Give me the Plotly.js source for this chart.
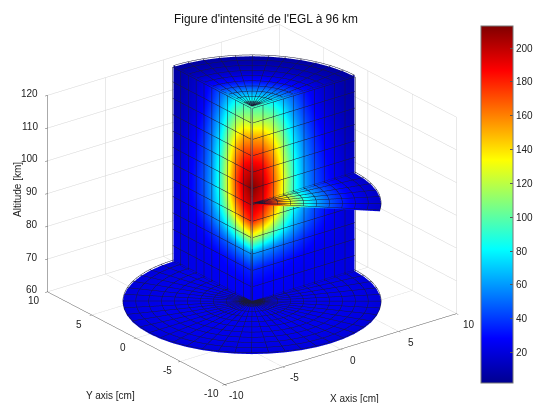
<!DOCTYPE html>
<html><head><meta charset="utf-8">
<script src="https://cdn.plot.ly/plotly-3.0.1.min.js"></script>
<style>html,body{margin:0;padding:0;background:#fff}#g{width:533px;height:403px}</style>
</head><body><div id="g"></div>
<script>
const altitudes=[120,115,110,105,100,95,90,85,80,75,70,65,60];
const radii=[0.01,0.885,1.77,2.655,3.54,4.425,5.31,6.195,7.08,7.965,8.85];
const intensity=[
[95,90,78,62,46,33,24,17,12,9,7],
[120,115,104,82,58,40,28,19,14,10,8],
[155,148,128,100,70,48,33,23,16,12,9],
[178,172,150,115,80,55,38,27,19,14,10],
[200,190,165,125,88,60,42,30,22,16,12],
[213,200,172,132,92,63,45,33,24,18,14],
[200,192,168,130,92,65,47,35,26,20,16],
[182,172,148,115,85,62,46,35,27,21,17],
[125,118,104,85,66,52,41,32,26,21,18],
[62,60,56,50,44,37,32,27,24,21,19],
[36,35,34,32,30,28,26,24,23,21,20],
[28,28,27,27,26,25,25,24,23,22,21],
[26,26,26,25,25,25,24,24,23,22,20]];
const sliceAltitude=90;
const denseRings=[0.15,0.3,0.45,0.6,0.75];
const xTicks=[-10,-5,0,5,10], yTicks=[-10,-5,0,5,10], zTicks=[60,70,80,90,100,110,120];
const cbTicks=[20,40,60,80,100,120,140,160,180,200];
const thetaStep=7.5;
const jet=[[0,'rgb(0,0,143)'],[0.125,'rgb(0,0,255)'],[0.375,'rgb(0,255,255)'],[0.625,'rgb(255,255,0)'],[0.875,'rgb(255,0,0)'],[1,'rgb(128,0,0)']];
const flat={ambient:1,diffuse:0,specular:0,roughness:1,fresnel:0};
const cmin=2,cmax=213;
const font={family:'Liberation Sans, Arial',size:10,color:'#222'};
// keep slices just inside the axis box so they are not clipped at its limits
function inset(a){return Math.min(119.5,Math.max(60.1,a));}
function angles(a,b){const o=[];for(let t=a;t<=b+1e-6;t+=thetaStep)o.push(t);return o;}
function base(){return {type:'surface',colorscale:jet,cmin,cmax,showscale:false,lighting:flat,hoverinfo:'skip',
  contours:{x:{highlight:false},y:{highlight:false},z:{highlight:false}}};}
function wall(dx,dy){
  const t=base();
  t.x=altitudes.map(()=>radii.map(r=>r*dx));
  t.y=altitudes.map(()=>radii.map(r=>r*dy));
  t.z=altitudes.map(a=>radii.map(()=>a));
  t.surfacecolor=intensity;
  return t;
}
function disk(alt,a,b){
  const t=base(),th=angles(a,b),row=intensity[altitudes.indexOf(alt)];
  t.x=th.map(d=>radii.map(r=>r*Math.cos(d*Math.PI/180)));
  t.y=th.map(d=>radii.map(r=>r*Math.sin(d*Math.PI/180)));
  t.z=th.map(()=>radii.map(()=>inset(alt)));
  t.surfacecolor=th.map(()=>row);
  return t;
}
const meshLines=[];
function seg(pts,o){meshLines.push({type:'scatter3d',mode:'lines',x:pts.map(p=>p[0]+o[0]),y:pts.map(p=>p[1]+o[1]),z:pts.map(p=>p[2]+o[2]),
  line:{color:'rgb(25,25,55)',width:1},hoverinfo:'skip',showlegend:false});}
function wallLines(dx,dy){
  const o=[-0.08*dy,-0.08*dx,0];
  radii.forEach(r=>seg(altitudes.map(a=>[r*dx,r*dy,inset(a)]),o));
  altitudes.forEach(a=>seg(radii.map(r=>[r*dx,r*dy,inset(a)]),o));
}
function diskLines(alt,a,b,rings){
  const o=[0,0,0.4],z=inset(alt);
  const th=angles(a,b);
  th.forEach(d=>seg(radii.map(r=>[r*Math.cos(d*Math.PI/180),r*Math.sin(d*Math.PI/180),z]),o));
  const fine=[];for(let d=a;d<=b+1e-6;d+=thetaStep/3)fine.push(d);
  rings.forEach(r=>seg(fine.map(d=>[r*Math.cos(d*Math.PI/180),r*Math.sin(d*Math.PI/180),z]),o));
}
const allRings=denseRings.concat(radii.slice(1));
wallLines(0,1);wallLines(1,0);
diskLines(120,0,90,allRings);
diskLines(60,0,360,allRings);
diskLines(sliceAltitude,-45,0,allRings);
const traces=[wall(0,1),wall(1,0),disk(120,0,90),disk(60,0,360),disk(sliceAltitude,-45,0)].concat(meshLines);
traces.push({type:'surface',x:[[0,0],[0,0]],y:[[0,0],[0,0]],z:[[60,60],[60,60]],surfacecolor:[[cmin,cmin],[cmax,cmax]],opacity:0,
 colorscale:jet,cmin,cmax,showscale:true,hoverinfo:'skip',
 colorbar:{x:481/533,xanchor:'left',xpad:0,y:(403-26)/403,yanchor:'top',ypad:0,lenmode:'pixels',len:357,thicknessmode:'pixels',thickness:32,
  outlinecolor:'#777',outlinewidth:1,tickvals:cbTicks,ticktext:cbTicks.map(String),ticks:'inside',ticklen:3,tickcolor:'#555',tickfont:font}});
function ax(range,ticks){return {title:{text:''},range,tickvals:ticks,ticktext:ticks.map(String),showticklabels:false,
 showbackground:false,showgrid:true,gridcolor:'#d4d4d4',gridwidth:1,zeroline:false,showline:true,linecolor:'#555',linewidth:1,
 ticks:'outside',ticklen:3,tickcolor:'#555',showspikes:false,autorange:false};}
function lab(x,y,z,t,xs,ys,anchor){return {x,y,z,text:t,showarrow:false,xshift:xs,yshift:ys,xanchor:anchor||'center',yanchor:'middle',font};}
const sceneLabels=[].concat(
 xTicks.map(v=>lab(v,-10,60,String(v),12,-11)),
 yTicks.map(v=>lab(-10,v,60,String(v),-13,-9)),
 zTicks.map(v=>lab(-10,10,v,String(v),-7,2,'right')));
const R=1.356;
const layout={width:533,height:403,margin:{l:0,r:0,t:0,b:0,autoexpand:false},paper_bgcolor:'#fff',showlegend:false,
 title:{text:"Figure d'intensité de l'EGL à 96 km",font:{family:'Liberation Sans, Arial',size:11.9,color:'#111'},x:266/533,xanchor:'center',y:(403-19)/403,yanchor:'middle'},
 annotations:[
  {xref:'paper',yref:'paper',x:110/533,y:(403-395)/403,text:'Y axis [cm]',showarrow:false,font,xanchor:'center',yanchor:'middle'},
  {xref:'paper',yref:'paper',x:354/533,y:(403-398)/403,text:'X axis [cm]',showarrow:false,font,xanchor:'center',yanchor:'middle'},
  {xref:'paper',yref:'paper',x:17/533,y:(403-190)/403,text:'Altitude [km]',textangle:-90,showarrow:false,font,xanchor:'center',yanchor:'middle'}],
 scene:{domain:{x:[0,504/533],y:[0,397/403]},aspectmode:'manual',aspectratio:{x:1.47,y:1.47,z:1.08},annotations:sceneLabels,
  camera:{projection:{type:'orthographic'},up:{x:0,y:0,z:1},center:{x:0,y:0,z:0},eye:{x:-0.5566*R,y:-0.7280*R,z:0.4003*R}},
  xaxis:ax([-10,10],xTicks),yaxis:ax([-10,10],yTicks),zaxis:ax([60,120],zTicks)}};
Plotly.newPlot('g',traces,layout,{displayModeBar:false});
</script></body></html>
